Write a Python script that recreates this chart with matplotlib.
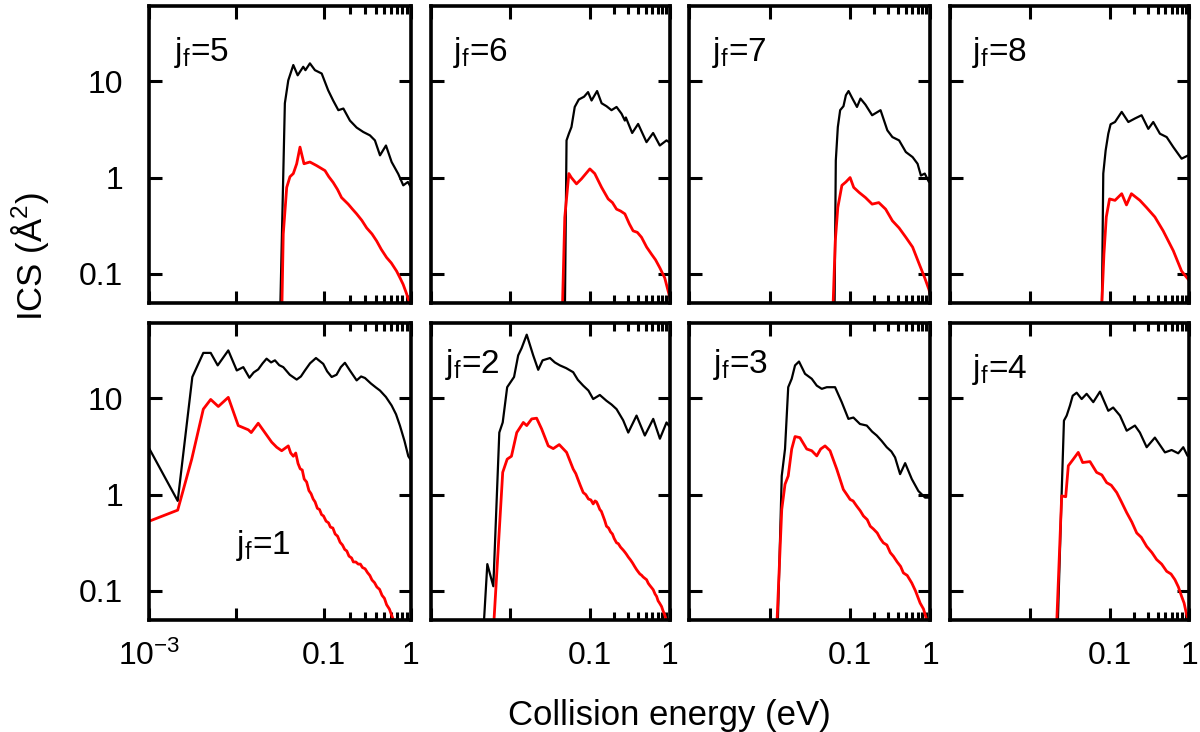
import numpy as np
import matplotlib
matplotlib.use("Agg")
import matplotlib.pyplot as plt
from matplotlib.ticker import FixedLocator, FixedFormatter, NullFormatter, NullLocator

plt.rcParams['font.family'] = ['Liberation Sans', 'DejaVu Sans']
plt.rcParams['mathtext.fontset'] = 'custom'
plt.rcParams['mathtext.rm'] = 'Liberation Sans'

# ---- data (E in eV, ICS in A^2) ----
# j_f = 1
e1_k = [0.001, 0.00212, 0.00312, 0.00417, 0.00507, 0.0061, 0.00807, 0.0101, 0.012, 0.0141,
        0.0158, 0.0178, 0.020, 0.0222, 0.025, 0.0277, 0.031, 0.0345, 0.041, 0.0492,
        0.055, 0.0612, 0.07, 0.0819, 0.0993, 0.11, 0.124, 0.141, 0.158, 0.176, 0.2,
        0.24, 0.27, 0.299, 0.35, 0.4, 0.445, 0.52, 0.605, 0.68, 0.753, 0.85, 0.94, 1.0]
s1_k = [3.0, 0.86, 16.6, 29.5, 29.5, 21.9, 31.3, 19.4, 21.0, 16.3,
        18.5, 19.9, 23.0, 25.7, 23.5, 24.7, 22.0, 21.0, 17.5, 15.6,
        16.8, 19.4, 23.0, 26.1, 22.7, 19.0, 16.6, 17.5, 21.0, 23.3, 19.5,
        15.3, 16.8, 16.2, 14.2, 12.9, 12.0, 10.3, 8.4, 6.8, 5.2, 3.6, 2.5, 2.3]
e1_r = [0.001, 0.00212, 0.00307, 0.00417, 0.00507, 0.0062, 0.00807, 0.0105, 0.0137, 0.0148,
        0.0178, 0.0254, 0.029, 0.0331, 0.0394, 0.042, 0.045, 0.048, 0.051, 0.054, 0.057,
        0.06, 0.064, 0.068, 0.072, 0.076, 0.08, 0.085, 0.09, 0.095, 0.10, 0.107, 0.114,
        0.12, 0.128, 0.136, 0.145, 0.155, 0.165, 0.175, 0.185, 0.196, 0.21, 0.22, 0.235,
        0.25, 0.265, 0.28, 0.30, 0.32, 0.34, 0.36, 0.385, 0.41, 0.44, 0.47, 0.50, 0.53,
        0.57, 0.61, 0.66]
s1_r = [0.53, 0.69, 2.33, 7.7, 9.7, 8.2, 10.2, 5.2, 4.7, 4.4,
        5.5, 3.5, 3.1, 2.85, 3.2, 2.7, 2.5, 2.7, 2.1, 1.85, 1.8,
        1.45, 1.35, 1.1, 1.02, 0.9, 0.84, 0.72, 0.7, 0.62, 0.6, 0.53, 0.51,
        0.46, 0.45, 0.39, 0.37, 0.32, 0.3, 0.27, 0.26, 0.23, 0.22, 0.2, 0.2,
        0.19, 0.19, 0.175, 0.17, 0.155, 0.145, 0.13, 0.122, 0.11, 0.104, 0.09, 0.084, 0.072,
        0.065, 0.055, 0.045]

# j_f = 2
e2_k = [0.0045, 0.00513, 0.0061, 0.00725, 0.008, 0.0091, 0.0111, 0.0125, 0.0138, 0.016,
        0.0193, 0.0223, 0.0253, 0.0313, 0.036, 0.0417, 0.05, 0.0612, 0.07, 0.0817, 0.095,
        0.109, 0.132, 0.16, 0.185, 0.214, 0.259, 0.30, 0.381, 0.484, 0.617, 0.748, 0.906, 1.0]
s2_k = [0.03, 0.19, 0.112, 4.4, 5.6, 13.0, 16.6, 27.8, 33.0, 45.6,
        27.8, 19.7, 24.7, 26.1, 23.5, 21.9, 20.5, 18.6, 15.5, 13.5, 12.0,
        9.8, 10.8, 9.4, 8.6, 7.7, 5.9, 4.4, 6.6, 4.1, 6.1, 3.8, 5.6, 5.0]
e2_r = [0.006, 0.008, 0.0091, 0.0103, 0.012, 0.0145, 0.016, 0.0185, 0.0213, 0.0246,
        0.0298, 0.0344, 0.0409, 0.0506, 0.0612, 0.066, 0.07, 0.075, 0.0817, 0.088, 0.095,
        0.102, 0.109, 0.115, 0.12, 0.126, 0.132, 0.138, 0.145, 0.152, 0.16, 0.17, 0.18,
        0.19, 0.2, 0.214, 0.225, 0.24, 0.26, 0.275, 0.286, 0.30, 0.32, 0.34, 0.36, 0.381,
        0.40, 0.42, 0.44, 0.46, 0.48, 0.509, 0.535, 0.56, 0.59, 0.617, 0.65, 0.68, 0.71,
        0.74, 0.785, 0.82, 0.85, 0.9, 1.0]
s2_r = [0.03, 1.7, 2.33, 2.5, 4.4, 5.6, 5.2, 6.1, 6.2, 4.8,
        3.2, 3.0, 3.3, 2.74, 1.84, 1.65, 1.45, 1.25, 1.05, 1.0, 0.9,
        0.88, 0.8, 0.86, 0.84, 0.77, 0.70, 0.67, 0.6, 0.54, 0.47, 0.45, 0.41,
        0.39, 0.35, 0.316, 0.31, 0.285, 0.265, 0.25, 0.239, 0.225, 0.21, 0.195, 0.18, 0.167,
        0.158, 0.15, 0.146, 0.14, 0.136, 0.131, 0.12, 0.114, 0.108, 0.103, 0.093, 0.088, 0.079,
        0.075, 0.069, 0.062, 0.058, 0.05, 0.04]

# j_f = 3
e3_k = [0.0125, 0.0142, 0.0156, 0.0171, 0.0189, 0.0208, 0.0233, 0.0277, 0.0336, 0.0388,
        0.0448, 0.0517, 0.0656, 0.0794, 0.0962, 0.111, 0.134, 0.163, 0.19, 0.217, 0.25,
        0.289, 0.33, 0.367, 0.424, 0.49, 0.593, 0.716, 0.869, 1.0]
s3_k = [0.03, 1.56, 2.97, 13.0, 15.9, 21.9, 24.0, 17.9, 15.9, 13.5,
        12.5, 13.0, 13.0, 9.1, 6.1, 6.3, 5.4, 5.2, 4.5, 4.1, 3.6,
        3.1, 2.8, 2.43, 1.63, 2.12, 1.45, 1.09, 0.93, 0.93]
e3_r = [0.0121, 0.0142, 0.0156, 0.0171, 0.0189, 0.0208, 0.0239, 0.0291, 0.0336, 0.0388,
        0.0434, 0.0492, 0.0568, 0.0688, 0.0832, 0.092, 0.101, 0.11, 0.122, 0.135, 0.148,
        0.165, 0.18, 0.197, 0.22, 0.24, 0.262, 0.29, 0.32, 0.35, 0.39, 0.43, 0.466, 0.52,
        0.593, 0.66, 0.753, 0.83, 0.91, 1.0]
s3_r = [0.03, 0.70, 1.28, 1.56, 2.97, 4.0, 3.9, 2.97, 2.85, 2.52,
        2.97, 3.2, 2.85, 1.84, 1.13, 1.0, 0.89, 0.86, 0.76, 0.68, 0.60,
        0.55, 0.47, 0.44, 0.40, 0.35, 0.316, 0.30, 0.25, 0.229, 0.20, 0.18, 0.154, 0.145,
        0.121, 0.10, 0.075, 0.065, 0.05, 0.042]

# j_f = 4
e4_k = [0.0221, 0.0251, 0.0268, 0.029, 0.0319, 0.0345, 0.0387, 0.0447, 0.0516, 0.0625,
        0.0758, 0.0964, 0.111, 0.135, 0.164, 0.208, 0.24, 0.292, 0.37, 0.495,
        0.60, 0.726, 0.84, 0.95, 1.0]
s4_k = [0.03, 1.05, 5.85, 6.6, 8.4, 10.6, 11.4, 9.8, 11.1, 9.1,
        11.7, 7.4, 8.0, 6.6, 4.6, 5.2, 4.4, 3.1, 3.9, 2.74,
        2.9, 2.68, 3.1, 2.52, 2.6]
e4_r = [0.0213, 0.0251, 0.0282, 0.0304, 0.0351, 0.0405, 0.046, 0.0568, 0.0688, 0.08,
        0.092, 0.105, 0.123, 0.14, 0.164, 0.19, 0.219, 0.25, 0.292, 0.34, 0.389, 0.45,
        0.52, 0.59, 0.66, 0.73, 0.80, 0.86, 0.92, 1.0]
s4_r = [0.03, 0.97, 0.95, 1.99, 2.33, 2.74, 2.15, 2.2, 1.7, 1.6,
        1.33, 1.25, 1.05, 0.85, 0.65, 0.52, 0.40, 0.36, 0.29, 0.25, 0.212, 0.19,
        0.16, 0.15, 0.131, 0.11, 0.088, 0.075, 0.058, 0.045]

# j_f = 5
e5_k = [0.0316, 0.036, 0.0394, 0.045, 0.0505, 0.0585, 0.062, 0.0698, 0.0797, 0.0953,
        0.113, 0.129, 0.148, 0.169, 0.201, 0.24, 0.286, 0.341, 0.389, 0.445,
        0.521, 0.605, 0.721, 0.823, 0.93, 1.0]
s5_k = [0.03, 5.9, 10.2, 14.7, 11.5, 14.1, 13.0, 15.3, 13.0, 12.0,
        8.05, 6.3, 5.0, 5.2, 3.9, 3.3, 2.97, 2.74, 2.43, 1.7,
        2.15, 1.45, 1.09, 0.83, 0.9, 0.8]
e5_r = [0.033, 0.0345, 0.0378, 0.0412, 0.045, 0.0492, 0.0537, 0.0597, 0.0698, 0.0834,
        0.104, 0.115, 0.129, 0.145, 0.161, 0.192, 0.215, 0.24, 0.275, 0.313, 0.36, 0.407,
        0.46, 0.53, 0.60, 0.69, 0.76, 0.82, 0.9, 0.97, 1.0]
s5_r = [0.03, 0.26, 0.79, 1.02, 1.1, 1.39, 2.07, 1.39, 1.45, 1.33,
        1.18, 1.02, 0.89, 0.75, 0.62, 0.53, 0.47, 0.42, 0.36, 0.30, 0.26, 0.22,
        0.18, 0.148, 0.13, 0.107, 0.09, 0.078, 0.062, 0.05, 0.045]

# j_f = 6
e6_k = [0.048, 0.0505, 0.054, 0.0582, 0.064, 0.0719, 0.0838, 0.094, 0.104, 0.122,
        0.139, 0.16, 0.185, 0.214, 0.247, 0.272, 0.28, 0.336, 0.399, 0.508,
        0.615, 0.746, 0.905, 1.0]
s6_k = [0.03, 2.43, 2.85, 3.34, 5.4, 6.45, 6.9, 7.7, 6.3, 7.9,
        5.9, 5.5, 5.0, 5.4, 4.6, 3.9, 4.2, 2.9, 3.6, 2.33,
        2.9, 2.15, 2.43, 2.3]
e6_r = [0.0443, 0.048, 0.054, 0.058, 0.0673, 0.0778, 0.099, 0.114, 0.139, 0.168,
        0.19, 0.214, 0.24, 0.272, 0.31, 0.345, 0.39, 0.44, 0.51, 0.588, 0.66, 0.746,
        0.86, 0.97, 1.0]
s6_r = [0.03, 0.386, 1.1, 1.0, 0.86, 0.97, 1.23, 1.1, 0.79, 0.6,
        0.55, 0.47, 0.45, 0.42, 0.33, 0.28, 0.27, 0.24, 0.19, 0.16, 0.14, 0.116,
        0.091, 0.062, 0.055]

# j_f = 7
e7_k = [0.0644, 0.067, 0.071, 0.0759, 0.0835, 0.0895, 0.0966, 0.108, 0.123, 0.136,
        0.157, 0.19, 0.242, 0.294, 0.34, 0.412, 0.50, 0.607, 0.70, 0.77,
        0.86, 0.97, 1.0]
s7_k = [0.03, 1.5, 3.34, 5.0, 5.5, 7.15, 7.9, 6.6, 5.4, 6.6,
        5.7, 4.43, 5.0, 3.09, 2.63, 2.43, 1.84, 1.63, 1.39, 1.05,
        1.1, 0.9, 0.92]
e7_r = [0.0608, 0.066, 0.071, 0.0798, 0.0895, 0.101, 0.112, 0.131, 0.157, 0.19,
        0.23, 0.28, 0.34, 0.412, 0.50, 0.607, 0.736, 0.86, 0.97, 1.0]
s7_r = [0.03, 0.22, 0.49, 0.83, 0.9, 1.0, 0.79, 0.70, 0.62, 0.53,
        0.55, 0.47, 0.356, 0.30, 0.24, 0.19, 0.126, 0.091, 0.069, 0.062]

# j_f = 8
e8_k = [0.0797, 0.0834, 0.0893, 0.0964, 0.103, 0.117, 0.142, 0.172, 0.208, 0.252,
        0.306, 0.353, 0.428, 0.52, 0.63, 0.80, 0.97, 1.0]
s8_k = [0.03, 1.1, 1.91, 2.85, 3.57, 3.77, 4.8, 3.77, 4.1, 4.43,
        3.2, 3.77, 2.85, 2.63, 2.07, 1.57, 1.7, 1.7]
e8_r = [0.078, 0.085, 0.091, 0.10, 0.117, 0.142, 0.163, 0.188, 0.24, 0.29,
        0.37, 0.47, 0.63, 0.80, 0.97, 1.0]
s8_r = [0.03, 0.16, 0.39, 0.6, 0.58, 0.68, 0.52, 0.68, 0.58, 0.49,
        0.39, 0.28, 0.174, 0.107, 0.088, 0.085]

jf_labels = ["j$_\\mathregular{f}$=%d" % j for j in range(1, 9)]
xtick_vals = [1e-3, 1e-2, 1e-1, 1.0]
xminor_vals = [0.2, 0.3, 0.4, 0.5, 0.6, 0.7, 0.8, 0.9]
ytick_vals = [0.1, 1.0, 10.0]

panels = [
    (e1_k, s1_k, e1_r, s1_r),
    (e2_k, s2_k, e2_r, s2_r),
    (e3_k, s3_k, e3_r, s3_r),
    (e4_k, s4_k, e4_r, s4_r),
    (e5_k, s5_k, e5_r, s5_r),
    (e6_k, s6_k, e6_r, s6_r),
    (e7_k, s7_k, e7_r, s7_r),
    (e8_k, s8_k, e8_r, s8_r),
]

# panel geometry (figure fractions); first column is a bit wider
col_left = [0.1244, 0.3589, 0.5744, 0.7917]
col_width = [0.2178, 0.1994, 0.2006, 0.1994]
row_bottom = {0: 0.5861, 1: 0.1530}
row_h = 0.4055

fig = plt.figure(figsize=(12, 7.32), dpi=100)

# panel order: bottom row j=1..4, top row j=5..8
label_pos = {1: (0.33, 0.25), 2: (0.06, 0.86), 3: (0.10, 0.86), 4: (0.092, 0.845),
             5: (0.095, 0.845), 6: (0.095, 0.845), 7: (0.095, 0.845), 8: (0.092, 0.845)}

for idx, (ek, sk, er, sr) in enumerate(panels):
    j = idx + 1
    row = 1 if j <= 4 else 0
    col = (j - 1) % 4
    ax = fig.add_axes([col_left[col], row_bottom[row], col_width[col], row_h])
    ax.plot(ek, sk, color="black", lw=1.6)
    ax.plot(er, sr, color="red", lw=2.0)
    ax.set_xscale("log")
    ax.set_yscale("log")
    ax.set_xlim(1e-3, 1.0)
    ax.set_ylim(0.05, 60)

    ax.xaxis.set_major_locator(FixedLocator(xtick_vals))
    ax.xaxis.set_minor_locator(FixedLocator(xminor_vals))
    ax.xaxis.set_minor_formatter(NullFormatter())
    ax.yaxis.set_major_locator(FixedLocator(ytick_vals))
    ax.yaxis.set_minor_locator(NullLocator())

    if row == 1:
        if col == 0:
            xl = ["$\\mathregular{10^{-3}}$", "", "0.1", "1"]
        else:
            xl = ["", "", "0.1", "1"]
    else:
        xl = ["", "", "", ""]
    ax.xaxis.set_major_formatter(FixedFormatter(xl))
    if col == 0:
        ax.yaxis.set_major_formatter(FixedFormatter(["0.1", "1", "10"]))
    else:
        ax.yaxis.set_major_formatter(FixedFormatter(["", "", ""]))

    ax.tick_params(which="both", direction="in", top=True, right=True,
                   width=2.2, labelsize=23)
    ax.tick_params(axis="x", which="major", pad=15)
    ax.tick_params(axis="y", which="major", pad=19)
    ax.tick_params(which="major", length=9)
    ax.tick_params(which="minor", length=5.5)
    for sp in ax.spines.values():
        sp.set_linewidth(2.6)

    lx, ly = label_pos[j]
    ax.text(lx, ly, jf_labels[idx], transform=ax.transAxes, fontsize=24,
            ha="left", va="center")

fig.text(0.558, 0.0096, "Collision energy (eV)", fontsize=25, ha="center", va="baseline")
fig.text(0.025, 0.65, "ICS (Å$^\\mathregular{2}$)", fontsize=25, rotation=90,
         ha="center", va="center")

fig.savefig("out.png", dpi=100)
